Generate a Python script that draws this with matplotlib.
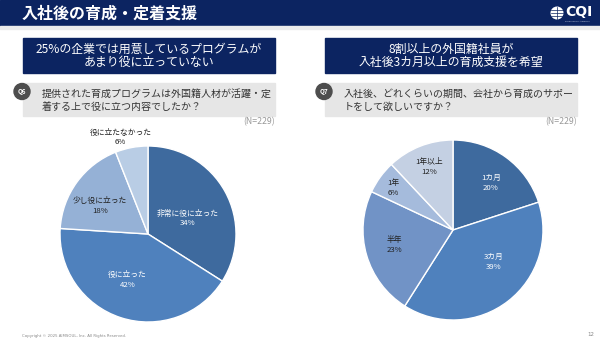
import numpy as np
import matplotlib
matplotlib.use("Agg")
import matplotlib.pyplot as plt
from matplotlib.patches import Rectangle, Circle

plt.rcParams['font.family'] = ['Noto Sans CJK JP', 'DejaVu Sans']

# ---------------- data ----------------
title = "入社後の育成・定着支援"
left_banner = ["25%の企業では用意しているプログラムが", "あまり役に立っていない"]
right_banner = ["8割以上の外国籍社員が", "入社後3カ月以上の育成支援を希望"]
left_q = ["提供された育成プログラムは外国籍人材が活躍・定", "着する上で役に立つ内容でしたか？"]
right_q = ["入社後、どれくらいの期間、会社から育成のサポー", "トをして欲しいですか？"]
n_text = "(N=229)"

left_labels = ["非常に役に立った", "役に立った", "少し役に立った", "役に立たなかった"]
left_values = [34, 42, 18, 6]
right_labels = ["1カ月", "3カ月", "半年", "1年", "1年以上"]
right_values = [20, 39, 23, 6, 12]

# ---------------- style ----------------
NAVY = "#0c2461"
left_colors = ["#3e6a9e", "#4f81bd", "#95b1d6", "#b9cde5"]
left_text_colors = ["white", "white", "#222222", "#222222"]
left_label_dist = [0.48, 0.57, 0.63, 1.14]
left_label_dang = [-7, -6, 6, 5]

right_colors = ["#3e6a9e", "#4f81bd", "#7193c6", "#a5bbdc", "#c4d0e3"]
right_text_colors = ["white", "white", "#222222", "#222222", "#222222"]
right_label_dist = [0.67, 0.58, 0.67, 0.81, 0.745]
right_label_dang = [-3, 14, -2, 1, -1]

W, H = 600, 340
fig = plt.figure(figsize=(6, 3.4), dpi=100)
bg = fig.add_axes([0, 0, 1, 1])
bg.set_xlim(0, W)
bg.set_ylim(H, 0)
bg.axis('off')

# header
bg.add_patch(Rectangle((0, 0), W, 26, color=NAVY, zorder=1))
bg.add_patch(Rectangle((0, 26), W, 3, color="#ececec", zorder=1))
bg.text(22, 13.5, title, color="white", fontsize=11.5, fontweight='bold',
        va='center', ha='left')
# logo
bg.add_patch(Circle((557, 13), 6.5, facecolor='white', edgecolor='none', zorder=2))
for yy in (10, 13, 16):
    bg.plot([551, 563], [yy, yy], color=NAVY, lw=0.5, zorder=3)
bg.plot([557, 557], [7, 19], color=NAVY, lw=0.5, zorder=3)
bg.text(565, 12, "CQI", color='white', fontsize=10, fontweight='bold',
        va='center', ha='left', family='DejaVu Sans')
bg.text(577, 21, "Produced by AIMSOUL", color='#cfd6e6', fontsize=1.6,
        va='center', ha='center', family='DejaVu Sans')


def panel(x0, x1, banner, qlines, qnum):
    bg.add_patch(Rectangle((x0, 37.5), x1 - x0, 35.5, color=NAVY, zorder=1))
    cx = (x0 + x1) / 2
    bg.text(cx, 49.5, banner[0], color='white', fontsize=8.6, ha='center', va='center')
    bg.text(cx, 62.5, banner[1], color='white', fontsize=8.6, ha='center', va='center')
    bg.add_patch(Rectangle((x0, 83), x1 - x0, 33, color="#e6e6e6", zorder=1))
    bg.add_patch(Circle((x0 - 1, 91.5), 8, color="#4d4d4d", zorder=2))
    bg.text(x0 - 1, 91.5, qnum, color='white', fontsize=4.5, fontweight='bold',
            ha='center', va='center', zorder=3)
    bg.text(x0 + 19, 93.5, qlines[0], color='#333333', fontsize=7.2, ha='left', va='center')
    bg.text(x0 + 19, 107, qlines[1], color='#333333', fontsize=7.2, ha='left', va='center')
    bg.text(x1, 121.5, n_text, color='#999999', fontsize=6.3, ha='right', va='center')


panel(23, 275, left_banner, left_q, "Q6")
panel(325, 577, right_banner, right_q, "Q7")

# footer
bg.text(22, 336, "Copyright © 2025 AIMSOUL, Inc. All Rights Reserved.", color='#888888',
        fontsize=2.8, ha='left', va='center', family='DejaVu Sans')
bg.text(591, 335, "12", color='#888888', fontsize=4, ha='center', va='center',
        family='DejaVu Sans')


def pie(cx, cy, r, values, labels, colors, tcolors, dists, dangs):
    ax = fig.add_axes([(cx - r) / W, (H - cy - r) / H, 2 * r / W, 2 * r / H])
    wedges, _ = ax.pie(values, colors=colors, startangle=90, counterclock=False,
                       radius=1.0, wedgeprops=dict(edgecolor='white', linewidth=1.0))
    ax.set_xlim(-1, 1)
    ax.set_ylim(-1, 1)
    ax.set_aspect('equal')
    ax.axis('off')
    for w, lab, v, tc, d, da in zip(wedges, labels, values, tcolors, dists, dangs):
        mid = np.deg2rad((w.theta1 + w.theta2) / 2 + da)
        ax.text(d * np.cos(mid), d * np.sin(mid), f"{lab}\n{v}%", color=tc,
                fontsize=5.6, ha='center', va='center', linespacing=1.3,
                clip_on=False)
    return ax


pie(148, 234, 88, left_values, left_labels, left_colors, left_text_colors,
    left_label_dist, left_label_dang)
pie(453, 230, 90, right_values, right_labels, right_colors, right_text_colors,
    right_label_dist, right_label_dang)

fig.savefig("out.png", dpi=100)
